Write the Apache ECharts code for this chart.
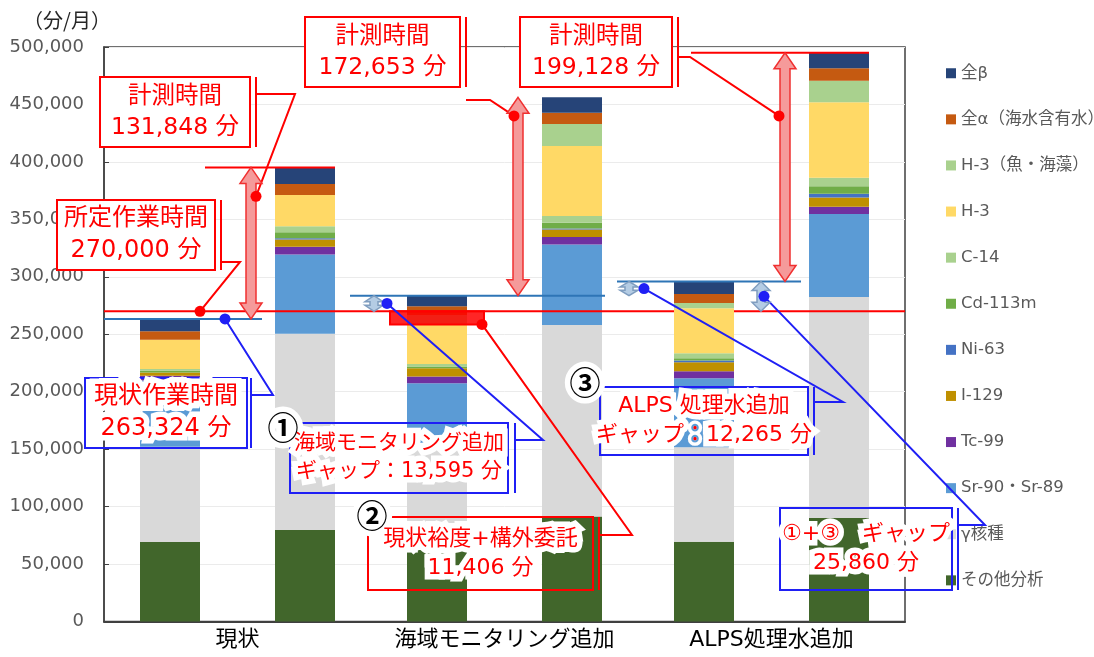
<!DOCTYPE html>
<html><head><meta charset="utf-8">
<script src="https://cdn.jsdelivr.net/npm/echarts@6/dist/echarts.min.js"></script>
<style>html,body{margin:0;padding:0;background:#fff}#c{width:1094px;height:657px}</style>
</head><body><div id="c"></div>
<script>
// ---------------- data ----------------
const categories = ['現状', '海域モニタリング追加', 'ALPS処理水追加'];
// stacking order bottom -> top
const seriesNames = ['その他分析', 'γ核種', 'Sr-90・Sr-89', 'Tc-99', 'I-129', 'Ni-63', 'Cd-113m', 'C-14', 'H-3', 'H-3（魚・海藻）', '全α（海水含有水）', '全β'];
const seriesColors = ['#41662B', '#D9D9D9', '#5B9BD5', '#7030A0', '#BF9000', '#4472C4', '#70AD47', '#A9D18E', '#FFD966', '#A9D18E', '#C55A11', '#264478'];
// 作業時間 (left bar of each group), 分/月
const otherWork = [69100, 69100, 69500];
const gammaWork = [83000, 81800, 82200];
const srWork    = [57700, 56500, 60000];
const tcWork    = [4000, 5800, 6100];
const iWork     = [3000, 7200, 7800];
const niWork    = [0, 0, 1500];
const cdWork    = [1400, 1500, 2000];
const c14Work   = [1500, 2200, 4400];
const h3Work    = [25600, 34800, 39200];
const h3FishWork= [0, 7900, 4600];
const alphaWork = [7300, 7500, 7800];
const betaWork  = [10700, 9300, 10800];
// 計測時間 (right bar of each group), 分/月
const otherMeas = [79600, 91300, 90100];
const gammaMeas = [170800, 166700, 192400];
const srMeas    = [69000, 70100, 72100];
const tcMeas    = [6700, 6500, 6400];
const iMeas     = [6400, 6500, 8100];
const niMeas    = [1000, 900, 3200];
const cdMeas    = [5200, 5000, 6400];
const c14Meas   = [5200, 5900, 7400];
const h3Meas    = [27200, 60900, 65900];
const h3FishMeas= [0, 19200, 18700];
const alphaMeas = [9600, 9800, 10700];
const betaMeas  = [14500, 13400, 13600];
// annotation values
const standardTime = 270000;      // 所定作業時間
const marginTime = 11406;         // 現状裕度+構外委託
const measLabels = ['131,848', '172,653', '199,128'];
const yTicks = [0, 50000, 100000, 150000, 200000, 250000, 300000, 350000, 400000, 450000, 500000];

const workData = [otherWork, gammaWork, srWork, tcWork, iWork, niWork, cdWork, c14Work, h3Work, h3FishWork, alphaWork, betaWork];
const measData = [otherMeas, gammaMeas, srMeas, tcMeas, iMeas, niMeas, cdMeas, c14Meas, h3Meas, h3FishMeas, alphaMeas, betaMeas];

const JP = '"Noto Sans CJK JP"';
const NUM = '"DejaVu Sans","Noto Sans CJK JP"';

const series = [];
seriesNames.forEach((n, j) => {
  [['work', workData[j]], ['meas', measData[j]]].forEach(([st, d]) => {
    series.push({
      name: n, type: 'bar', stack: st, data: d,
      barWidth: 60, barGap: '125%',
      itemStyle: { color: seriesColors[j] },
      emphasis: { disabled: true }
    });
  });
});

const chart = echarts.init(document.getElementById('c'), null, { renderer: 'canvas' });
const option = {
  animation: false,
  color: seriesColors,
  grid: { left: 104, right: 189, top: 47, bottom: 35.5, show: true, borderColor: '#404040', borderWidth: 1.5, backgroundColor: 'transparent' },
  legend: {
    orient: 'vertical', left: 941, top: 60,
    itemWidth: 10, itemHeight: 10, itemGap: 29.6, icon: 'rect',
    data: seriesNames.slice().reverse(),
    textStyle: { color: '#595959', fontSize: 16.5, fontFamily: NUM, lineHeight: 14 },
    selectedMode: false
  },
  xAxis: {
    type: 'category', data: categories,
    axisLine: { lineStyle: { color: '#404040', width: 2 } },
    axisTick: { show: false },
    axisLabel: { color: '#000', fontSize: 22, fontFamily: NUM, margin: 8, interval: 0 }
  },
  yAxis: {
    type: 'value', min: yTicks[0], max: yTicks[yTicks.length - 1], interval: yTicks[1] - yTicks[0],
    axisLine: { show: true, lineStyle: { color: '#404040', width: 1.5 } },
    axisTick: { show: true, inside: true, length: 5, lineStyle: { color: '#404040' } },
    splitLine: { lineStyle: { color: '#EBEBEB' } },
    axisLabel: { color: '#595959', fontSize: 18, fontFamily: NUM, margin: 20,
      formatter: v => v.toLocaleString('en-US') }
  },
  series: series
};
chart.setOption(option);

// ---------------- annotations (positions derived from axes) ----------------
const Y = v => chart.convertToPixel({ yAxisIndex: 0 }, v);
const rect = chart.getModel().getComponent('grid').coordinateSystem.getRect();
const lay = (si, i) => chart.getModel().getSeriesByIndex(si).getData().getItemLayout(i);
const wl = [], wr = [], ml = [], mr = [], wt = [], mt = [];
for (let i = 0; i < 3; i++) {
  const a = lay(0, i), b = lay(1, i);
  wl.push(Math.min(a.x, a.x + a.width)); wr.push(Math.max(a.x, a.x + a.width));
  ml.push(Math.min(b.x, b.x + b.width)); mr.push(Math.max(b.x, b.x + b.width));
  wt.push(workData.reduce((s, d) => s + d[i], 0));
  mt.push(measData.reduce((s, d) => s + d[i], 0));
}
const RED = '#FF0000', BLUE = '#1F1FF5', LBLUE = '#2E75B6';
const G = [];
const line = (pts, c, w) => G.push({ type: 'polyline', shape: { points: pts }, style: { stroke: c, lineWidth: w || 2, fill: null }, z: 100, silent: true });
const dot = (x, y, c) => G.push({ type: 'circle', shape: { cx: x, cy: y, r: 5.5 }, style: { fill: c }, z: 104, silent: true });
function vArrow(x, yTop, yBot, shaft, head, headL, fill, stroke) {
  const h = yBot - yTop; const hl = Math.min(headL, h / 2.6);
  const pts = [[x, yTop], [x + head / 2, yTop + hl], [x + shaft / 2, yTop + hl], [x + shaft / 2, yBot - hl], [x + head / 2, yBot - hl], [x, yBot],
    [x - head / 2, yBot - hl], [x - shaft / 2, yBot - hl], [x - shaft / 2, yTop + hl], [x - head / 2, yTop + hl]];
  G.push({ type: 'polygon', shape: { points: pts }, style: { fill: fill, stroke: stroke, lineWidth: 1.5 }, z: 101, silent: true });
}
function txt(x, y, s, size, color, font, weight, glow) {
  const base = { text: s, x: x, y: y, font: (weight || '') + ' ' + size + 'px ' + (font || NUM), align: 'center', verticalAlign: 'middle', lineHeight: Math.round(size * 1.32) };
  if (glow !== false) G.push({ type: 'text', z: 102, silent: true, style: Object.assign({}, base, { fill: '#fff', stroke: '#fff', lineWidth: 11, lineJoin: 'round', shadowColor: '#fff', shadowBlur: 12 }) });
  G.push({ type: 'text', z: 103, silent: true, style: Object.assign({}, base, { fill: color }) });
}
function callout(bx, by, bw, bh, c, lines, size, filled, brX, hY, hX2, dx, dy) {
  G.push({ type: 'rect', shape: { x: bx, y: by, width: bw, height: bh }, style: { fill: filled ? '#fff' : null, stroke: c, lineWidth: 2 }, z: 100, silent: true });
  txt(bx + bw / 2, by + bh / 2, lines.join('\n'), size, RED, NUM, '', !filled);
  line([[brX, by], [brX, by + bh]], c, 2);
  line([[brX, hY], [hX2, hY], [dx, dy]], c, 2);
  dot(dx, dy, c);
}

const yStd = Y(standardTime);
// reference lines (the 所定 line passes behind the ALPS work bar)
line([[rect.x, yStd], [wl[2], yStd]], RED, 2);
line([[wr[2], yStd], [rect.x + rect.width, yStd]], RED, 2);
line([[rect.x, Y(wt[0])], [wr[0] + 62, Y(wt[0])]], LBLUE, 2);
line([[wl[1] - 57, Y(wt[1])], [mr[1] + 3, Y(wt[1])]], LBLUE, 2);
line([[wl[2] - 57, Y(wt[2])], [ml[2] - 8, Y(wt[2])]], LBLUE, 2);
line([[wr[0] + 5, Y(mt[0])], [mr[0], Y(mt[0])]], RED, 2);
line([[ml[2] - 118, Y(mt[2])], [mr[2], Y(mt[2])]], RED, 2);
// margin band (現状裕度+構外委託)
G.push({ type: 'rect', shape: { x: wl[1] - 17, y: yStd, width: wr[1] - wl[1] + 34, height: Y(standardTime - marginTime) - yStd },
  style: { fill: 'rgba(255,0,0,0.85)', stroke: RED, lineWidth: 2 }, z: 99, silent: true });
// measurement arrows
for (let i = 0; i < 3; i++) vArrow(ml[i] - 24, Y(mt[i]), Y(wt[i]), 10, 22, 16, '#F59A9A', '#F03030');
// gap indicators
vArrow(wl[1] - 33, Y(wt[1]), yStd, 8, 18, 7, '#B4CCE4', '#7F9DBF');
vArrow(wl[2] - 45, Y(wt[2]), Y(wt[1]), 8, 18, 6, '#B4CCE4', '#7F9DBF');
vArrow(ml[2] - 48, Y(wt[2]), yStd, 8, 18, 9, '#B4CCE4', '#7F9DBF');

// callouts
callout(100, 77, 150, 70, RED, ['計測時間', measLabels[0] + ' 分'], 23.5, true, 256, 94, 295, ml[0] - 19, Y(370000));
callout(57, 200, 158, 70, RED, ['所定作業時間', '270,000 分'], 24, true, 221, 262, 240, wr[0], yStd);
callout(305, 17, 155, 70, RED, ['計測時間', measLabels[1] + ' 分'], 23.5, true, 466, 100, 490, ml[1] - 28, Y(440000));
callout(520, 17, 152, 70, RED, ['計測時間', measLabels[2] + ' 分'], 23.5, true, 678, 57, 690, ml[2] - 30, Y(440000));
callout(85, 378, 162, 70, BLUE, ['現状作業時間', '263,324 分'], 24, false, 251, 395, 273, wr[0] + 25, Y(wt[0]));
callout(290, 423, 218, 70, BLUE, ['海域モニタリング追加', 'ギャップ：13,595 分'], 21, false, 515, 440, 543, wl[1] - 20, Y((wt[1] + standardTime) / 2));
callout(368, 517, 225, 73, RED, ['現状裕度+構外委託', '11,406 分'], 22, false, 599, 535, 632, wr[1] + 15, Y(standardTime - marginTime));
callout(600, 387, 208, 68, BLUE, ['ALPS 処理水追加', 'ギャップ：12,265 分'], 22, false, 814, 402, 843, wl[2] - 30, Y((wt[2] + wt[1]) / 2));
callout(780, 508, 172, 82, BLUE, ['①+③　ギャップ', '25,860 分'], 22, false, 958, 525, 985, ml[2] - 45, Y(283000));
// circled numbers
[['①', 283, 427], ['②', 372, 515], ['③', 585, 382]].forEach(([s, x, y]) => txt(x, y, s, 31, '#000', JP, 'bold'));
// axis unit
G.push({ type: 'text', z: 105, silent: true, style: { text: '（分/月）', x: 67, y: 20, font: '20px ' + JP, fill: '#262626', align: 'center', verticalAlign: 'middle' } });

chart.setOption({ graphic: { elements: G } });
</script></body></html>
